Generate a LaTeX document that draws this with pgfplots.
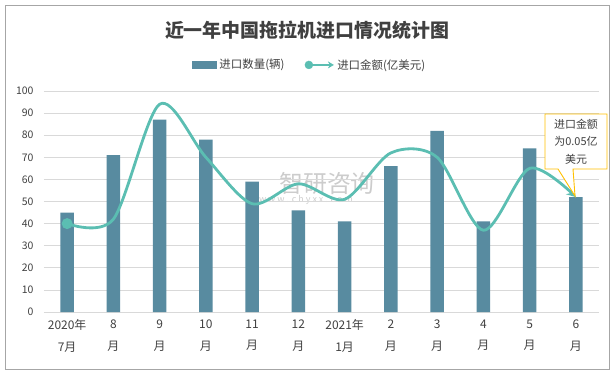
\documentclass[border=0pt]{standalone}
\usepackage{fontspec}
\setmainfont{Noto Sans CJK SC}
\usepackage{pgfplots}
\pgfplotsset{compat=1.18}
\usetikzlibrary{arrows.meta}
\definecolor{barc}{RGB}{88,139,160}
\definecolor{linec}{RGB}{91,190,178}
\definecolor{txt}{RGB}{64,64,64}
\definecolor{gridc}{RGB}{217,217,217}
\definecolor{callc}{RGB}{255,192,0}
\definecolor{borderc}{RGB}{166,166,166}
\begin{document}
\begin{tikzpicture}[x=1bp,y=1bp]
\path (-44,-61) rectangle (570,312);
\draw[borderc, line width=0.8bp] (-39,-57) rectangle (565,307);
\node[txt, font=\fontsize{19}{22}\selectfont\bfseries] at (263,282) {近一年中国拖拉机进口情况统计图};
% watermark
\node[gray, opacity=0.4, font=\fontsize{24}{26}\selectfont] at (283,129) {智研咨询};
\node[gray, opacity=0.4, font=\fontsize{9}{10}\selectfont] at (262,112) {w w w . c h y x x . c o m};
\begin{axis}[at={(0,0)}, anchor=south west, scale only axis, width=555bp, height=221bp,
  xmin=-0.5, xmax=11.5, ymin=0, ymax=100,
  ytick={0,10,...,100}, xtick={0,...,11},
  xticklabels={{2020年\\7月},{8\\月},{9\\月},{10\\月},{11\\月},{12\\月},{2021年\\1月},{2\\月},{3\\月},{4\\月},{5\\月},{6\\月}},
  xticklabel style={align=center, font=\fontsize{12}{22}\selectfont, text=txt, yshift=-4bp},
  yticklabel style={font=\fontsize{10.5}{12}\selectfont, text=txt, xshift=-7bp},
  /pgf/number format/assume math mode=true,
  axis line style={draw=none}, tick style={draw=none},
  ymajorgrids, grid style={gridc, line width=0.8bp},
  legend style={at={(0.479,1.118)}, anchor=center, draw=none, fill=none,
    font=\fontsize{11.5}{13}\selectfont, text=txt, legend columns=2,
    /tikz/every even column/.append style={column sep=18bp}},
  legend cell align=left]
\addplot[ybar, bar width=13.5bp, fill=barc, draw=none,
  legend image code/.code={\fill[barc] (0bp,-4bp) rectangle (25bp,4bp);}]
  coordinates {(0,45) (1,71) (2,87) (3,78) (4,59) (5,46) (6,41) (7,66) (8,82) (9,41) (10,74) (11,52)};
\addlegendentry{进口数量(辆)}
\addlegendimage{legend image code/.code={\draw[linec, line width=2.8bp, -{Stealth[length=6bp,width=7bp]}] (0bp,0bp) -- (28bp,0bp); \fill[linec] (3bp,0bp) circle (4bp);}}
\addlegendentry{进口金额(亿美元)}
\end{axis}
\begin{axis}[at={(0,0)}, anchor=south west, scale only axis, width=555bp, height=221bp,
  xmin=-0.5, xmax=11.5, ymin=0, ymax=0.1, hide axis]
\addplot[smooth, linec, line width=2.8bp, -{Stealth[length=9bp,width=10bp]},
  mark=*, mark indices={1}, mark size=4bp, mark options={fill=linec, draw=linec}]
  coordinates {(0,0.040) (1,0.042) (2,0.094) (3,0.070) (4,0.049) (5,0.058) (6,0.051) (7,0.072) (8,0.070) (9,0.037) (10,0.065) (11,0.052)};
\end{axis}
\draw[callc, fill=white, line width=0.9bp] (501,198) -- (563,198) -- (563,143) -- (529,143) -- (531,116) -- (514,143) -- (501,143) -- cycle;
\node[txt, align=center, font=\fontsize{11}{17.5}\selectfont] at (532,170.5) {进口金额\\为0.05亿\\美元};
\end{tikzpicture}
\end{document}
